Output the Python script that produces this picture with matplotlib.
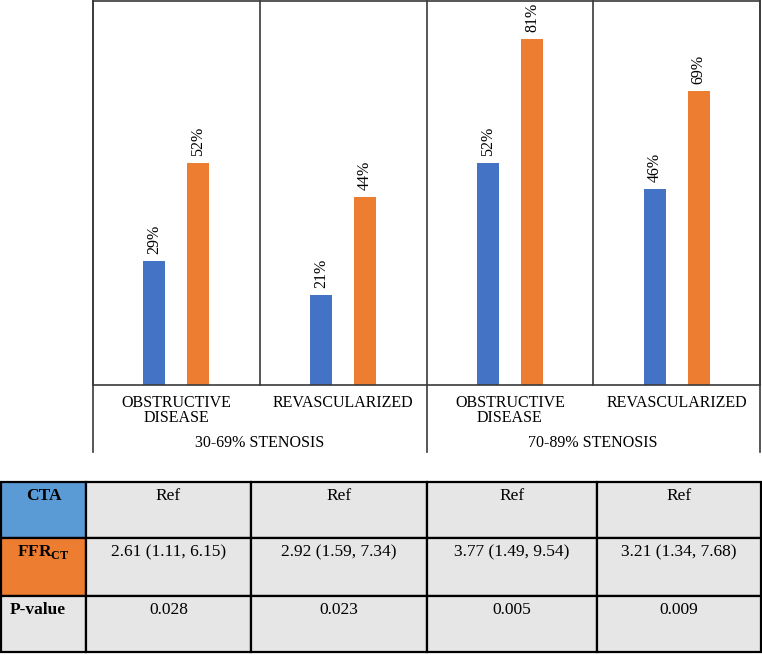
import numpy as np
import matplotlib
matplotlib.use("Agg")
import matplotlib.pyplot as plt
import matplotlib.transforms as mtransforms
from matplotlib.patches import Rectangle

plt.rcParams['font.family'] = ['Liberation Serif', 'DejaVu Serif']
plt.rcParams['mathtext.fontset'] = 'custom'
plt.rcParams['mathtext.rm'] = 'Liberation Serif'
plt.rcParams['mathtext.bf'] = 'Liberation Serif:bold'

# ---- data ----
categories = ["OBSTRUCTIVE\nDISEASE", "REVASCULARIZED", "OBSTRUCTIVE\nDISEASE", "REVASCULARIZED"]
groups = ["30-69% STENOSIS", "70-89% STENOSIS"]
cta_values = [0.29, 0.21, 0.52, 0.46]
ffr_values = [0.52, 0.44, 0.81, 0.69]
row_labels = ["CTA", r"$\mathbf{FFR}_{\mathbf{CT}}$", "P-value"]
cta_text = ["Ref", "Ref", "Ref", "Ref"]
ffr_text = ["2.61 (1.11, 6.15)", "2.92 (1.59, 7.34)", "3.77 (1.49, 9.54)", "3.21 (1.34, 7.68)"]
p_text = ["0.028", "0.023", "0.005", "0.009"]

BLUE = '#4472C4'
ORANGE = '#ED7D31'
LIGHTBLUE = '#5B9BD5'
GREY = '#E7E6E6'
LINE = '#3a3a3a'

W, H = 762, 655
fig = plt.figure(figsize=(W / 100, H / 100), dpi=100)

# ---- bar chart ----
ax_left, ax_right, ax_top, ax_base = 93, 760, 1, 385
ax = fig.add_axes([ax_left / W, 1 - ax_base / H, (ax_right - ax_left) / W, (ax_base - ax_top) / H])
x = np.arange(len(categories))
bw = 0.132
ax.bar(x - bw, cta_values, width=bw, color=BLUE, edgecolor='none')
ax.bar(x + bw, ffr_values, width=bw, color=ORANGE, edgecolor='none')
ax.set_xlim(-0.5, len(categories) - 0.5)
ax.set_ylim(0, 0.9)
ax.set_xticks([])
ax.set_yticks([])
for s in ax.spines.values():
    s.set_color(LINE)
    s.set_linewidth(1.2)

for xi, v in zip(x, cta_values):
    ax.annotate(f"{v * 100:.0f}%", (xi - bw, v), xytext=(0, 5), textcoords='offset points',
                rotation=90, ha='center', va='bottom', fontsize=11.5)
for xi, v in zip(x, ffr_values):
    ax.annotate(f"{v * 100:.0f}%", (xi + bw, v), xytext=(0, 5), textcoords='offset points',
                rotation=90, ha='center', va='bottom', fontsize=11.5)

ah = ax_base - ax_top
blend = mtransforms.blended_transform_factory(ax.transData, ax.transAxes)
# category separators
for sx, ext in [(0.5, 0), (1.5, 67), (2.5, 0), (-0.5, 67), (len(categories) - 0.5, 67)]:
    ax.plot([sx, sx], [-ext / ah, 1], transform=blend, color=LINE, lw=1.2, clip_on=False)

for xi, lab in zip(x, categories):
    ax.text(xi, -10 / ah, lab, transform=blend, ha='center', va='top', fontsize=11.5,
            linespacing=0.95)
for gi, g in enumerate(groups):
    ax.text(gi * 2 + 0.5, -58 / ah, g, transform=blend, ha='center', va='center', fontsize=11.5)

# ---- table ----
tax = fig.add_axes([0, 0, 1, 1], facecolor='none')
tax.set_xlim(0, W)
tax.set_ylim(H, 0)
tax.axis('off')
cols = [1, 86, 251, 427, 597, 761]
rows = [482, 538, 596, 652]
header_colors = [LIGHTBLUE, ORANGE, GREY]
row_values = [cta_text, ffr_text, p_text]
for r in range(3):
    for c in range(5):
        fc = header_colors[r] if c == 0 else GREY
        tax.add_patch(Rectangle((cols[c], rows[r]), cols[c + 1] - cols[c], rows[r + 1] - rows[r],
                                facecolor=fc, edgecolor='black', lw=1.6))
    if r == 2:
        tax.text(cols[0] + 9, rows[r] + 14, row_labels[r], ha='left', va='center',
                 fontsize=12.5, fontweight='bold')
    else:
        tax.text((cols[0] + cols[1]) / 2, rows[r] + 14, row_labels[r], ha='center', va='center',
                 fontsize=12.5, fontweight='bold')
    for c in range(4):
        tax.text((cols[c + 1] + cols[c + 2]) / 2, rows[r] + 14, row_values[r][c],
                 ha='center', va='center', fontsize=12.5)

fig.savefig("out.png", dpi=100)
